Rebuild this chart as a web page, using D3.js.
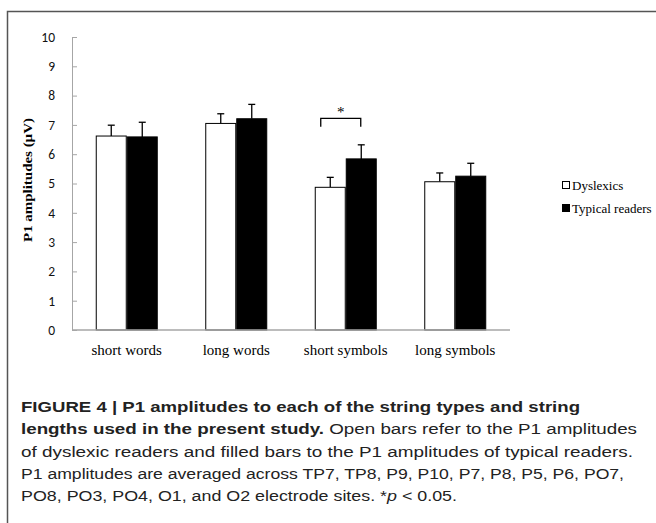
<!DOCTYPE html>
<html><head><meta charset="utf-8">
<script src="https://cdn.jsdelivr.net/npm/d3@7"></script>
<style>body{margin:0;background:#fff}svg{display:block}</style>
</head><body>
<svg id="c" width="656" height="523"></svg>
<script>
const categories = ["short words", "long words", "short symbols", "long symbols"];
const seriesNames = ["Dyslexics", "Typical readers"];
const dyslexicMeans = [6.62, 7.05, 4.87, 5.06];
const dyslexicErr = [0.37, 0.33, 0.34, 0.30];
const typicalMeans = [6.59, 7.21, 5.84, 5.25];
const typicalErr = [0.50, 0.49, 0.48, 0.44];
const yTicks = [0,1,2,3,4,5,6,7,8,9,10];
const yTitle = "P1 amplitudes (µV)";
const sigCategory = "short symbols";
const sigLevel = [6.94, 7.22];
const captionLines = [
  [["FIGURE 4 | P1 amplitudes to each of the string types and string", true]],
  [["lengths used in the present study.", true], [" Open bars refer to the P1 amplitudes", false]],
  [["of dyslexic readers and filled bars to the P1 amplitudes of typical readers.", false]],
  [["P1 amplitudes are averaged across TP7, TP8, P9, P10, P7, P8, P5, P6, PO7,", false]],
  [["PO8, PO3, PO4, O1, and O2 electrode sites. *", false], ["p", false, true], [" < 0.05.", false]]
];
const captionEnds = [580, 637, 633, 624, 457];

const svg = d3.select("#c");
const axisColor = "#a6a6a6";

// frame
svg.append("path").attr("d", "M7.5,523V11.5H656").attr("fill","none").attr("stroke","#555").attr("stroke-width",1.5);

const x = d3.scaleBand().domain(categories).range([72, 510]);
const y = d3.scaleLinear().domain([0, 10]).range([330, 37]);
const barW = 31;
const colors = ["#fff", "#000"];

const data = categories.map((c, i) => ({c, vals: [
  {s: 0, m: dyslexicMeans[i], e: dyslexicErr[i]},
  {s: 1, m: typicalMeans[i], e: typicalErr[i]}
]}));

// y axis
const ya = svg.append("g").attr("transform", "translate(72,0)")
  .call(d3.axisLeft(y).tickValues(yTicks).tickSizeInner(-5).tickSizeOuter(0).tickPadding(17));
ya.select(".domain").attr("stroke", axisColor);
ya.selectAll(".tick line").attr("stroke", axisColor);
ya.selectAll(".tick text").attr("font-family", "Carlito, 'Liberation Sans', Arial, sans-serif").attr("font-size", 13.5).attr("fill","#111");

// bars
const g = svg.append("g");
data.forEach(d => {
  const cx = x(d.c) + x.bandwidth()/2;
  d.vals.forEach(v => {
    const bx = cx - barW + v.s*barW;
    const mx = bx + barW/2;
    g.append("line").attr("x1", mx).attr("x2", mx).attr("y1", y(v.m)).attr("y2", y(v.m+v.e)).attr("stroke","#000").attr("stroke-width",1.3);
    g.append("line").attr("x1", mx-3.5).attr("x2", mx+3.5).attr("y1", y(v.m+v.e)).attr("y2", y(v.m+v.e)).attr("stroke","#000").attr("stroke-width",1.3);
    g.append("rect").attr("x", bx+0.5).attr("y", y(v.m)).attr("width", barW-1).attr("height", y(0)-y(v.m))
      .attr("fill", colors[v.s]).attr("stroke","#000").attr("stroke-width",1);
  });
});

// x axis line
svg.append("line").attr("x1",72).attr("x2",510).attr("y1",y(0)).attr("y2",y(0)).attr("stroke",axisColor).attr("stroke-width",1.5);

// x labels
svg.append("g").selectAll("text").data(categories).join("text")
  .attr("x", d => x(d) + x.bandwidth()/2).attr("y", 355)
  .attr("text-anchor","middle").attr("font-family","'Liberation Serif','Times New Roman',serif").attr("font-size",15)
  .text(d => d);

// significance bracket
const sc = x(sigCategory) + x.bandwidth()/2 - 5;
svg.append("path").attr("d", `M${sc-20},${y(sigLevel[0])}V${y(sigLevel[1])}H${sc+20}V${y(sigLevel[0])}`)
  .attr("fill","none").attr("stroke","#000").attr("stroke-width",1.3);
svg.append("text").attr("x", sc).attr("y", y(sigLevel[1]) - 1).attr("text-anchor","middle")
  .attr("font-family","'Liberation Serif',serif").attr("font-size",15).attr("fill","#000").text("*");

// y title
svg.append("text").attr("transform","translate(32,180) rotate(-90)").attr("text-anchor","middle")
  .attr("font-family","'Liberation Serif','Times New Roman',serif").attr("font-weight","bold").attr("font-size",13.5)
  .attr("textLength",124).attr("lengthAdjust","spacingAndGlyphs").text(yTitle);

// legend
const lg = svg.append("g").attr("font-family","'Liberation Serif','Times New Roman',serif").attr("font-size",13);
seriesNames.forEach((n, i) => {
  const ly = 186 + i*23;
  lg.append("rect").attr("x", 562.5).attr("y", ly-4.5).attr("width", 7).attr("height", 7).attr("fill", colors[i]).attr("stroke","#000").attr("stroke-width",1);
  lg.append("text").attr("x", 572).attr("y", ly+4).text(n);
});

// caption
const cap = svg.append("g").attr("font-family","'Liberation Sans Narrow','Liberation Sans',Arial,sans-serif").attr("font-size",15.5).attr("fill","#222");
captionLines.forEach((line, i) => {
  const t = cap.append("text").attr("x", 21).attr("y", 412 + i*22.3)
    .attr("textLength", captionEnds[i]-21).attr("lengthAdjust","spacingAndGlyphs");
  line.forEach(seg => {
    t.append("tspan").attr("font-weight", seg[1] ? "bold" : "normal").attr("font-style", seg[2] ? "italic" : "normal").text(seg[0]);
  });
});
</script>
</body></html>
